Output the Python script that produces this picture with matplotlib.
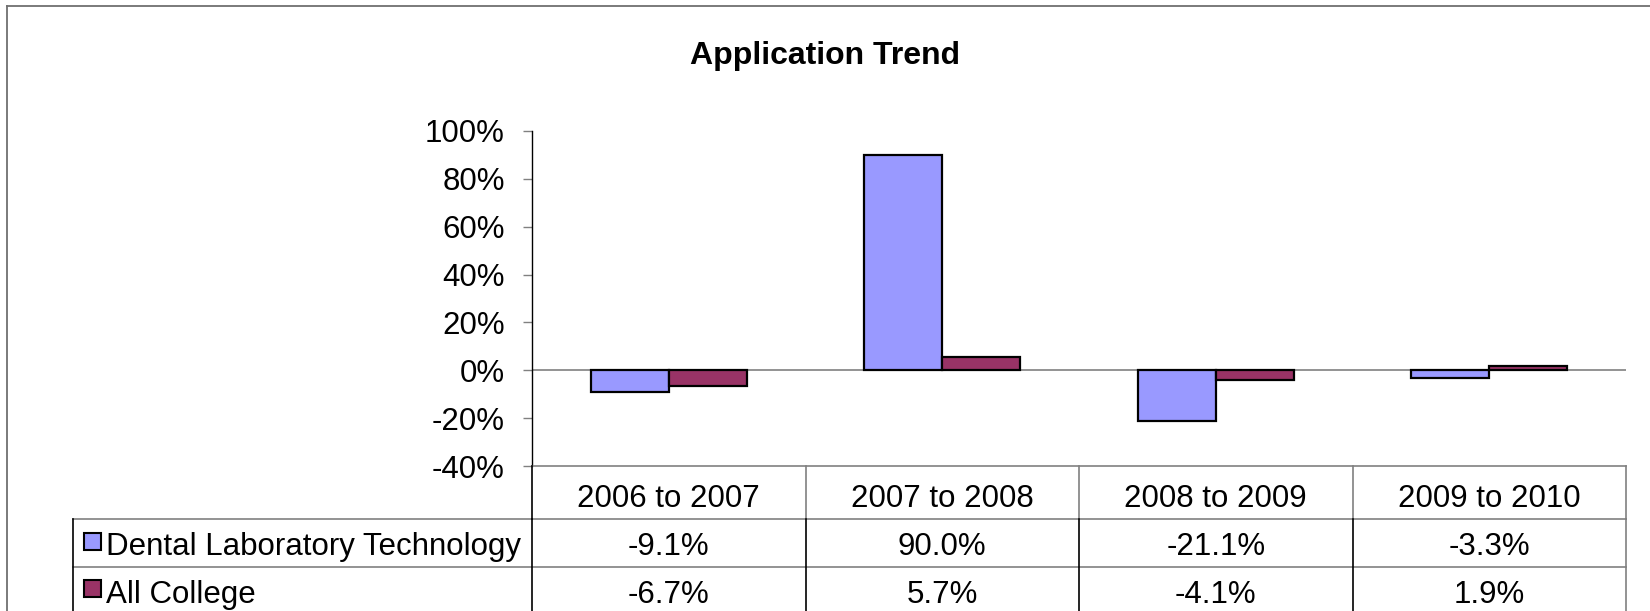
import matplotlib.pyplot as plt
import matplotlib.transforms as mtransforms
from matplotlib.lines import Line2D
from matplotlib.patches import Rectangle
from matplotlib.ticker import FuncFormatter
import numpy as np

plt.rcParams['font.family'] = ['Liberation Sans', 'DejaVu Sans']

title = 'Application Trend'
categories = ['2006 to 2007', '2007 to 2008', '2008 to 2009', '2009 to 2010']
series_names = ['Dental Laboratory Technology', 'All College']
dental = [-9.1, 90.0, -21.1, -3.3]
college = [-6.7, 5.7, -4.1, 1.9]
colors = ['#9999FF', '#993366']

W, H = 1650, 611
FS = 22.5

fig = plt.figure(figsize=(W / 100, H / 100), dpi=100)


def fx(px):
    return px / W


def fy(py):
    return 1 - py / H


# chart area border (cut off at right and bottom like the original)
fig.add_artist(Line2D([fx(7), 1.0], [fy(5.5), fy(5.5)], color='#707070', lw=1.3))
fig.add_artist(Line2D([fx(7), fx(7)], [fy(5.5), 0.0], color='#707070', lw=1.3))

ax = fig.add_axes([fx(532), fy(466), (1626 - 532) / W, (466 - 131) / H])

x = np.arange(len(categories))
w = 1 / 3.5  # excel gap width 75%
ax.bar(x - w / 2, dental, w, color=colors[0], edgecolor='black', linewidth=1.6, zorder=3)
ax.bar(x + w / 2, college, w, color=colors[1], edgecolor='black', linewidth=1.6, zorder=3)
ax.axhline(0, color='#808080', lw=1.2, zorder=2)

ax.set_xlim(-0.5, len(categories) - 0.5)
ax.set_ylim(-40, 100)
ax.set_yticks(np.arange(-40, 101, 20))
ax.yaxis.set_major_formatter(FuncFormatter(lambda v, p: f'{v:.0f}%'))
ax.tick_params(axis='y', labelsize=FS, length=6.5, width=1, color='#808080', pad=13)
ax.set_xticks([])
for s in ['top', 'right', 'bottom']:
    ax.spines[s].set_visible(False)
ax.spines['left'].set_color('black')
ax.spines['left'].set_linewidth(1.0)

fig.text(0.5, fy(64), title, ha='center', va='baseline', fontsize=FS + 0.5,
         fontweight='bold')

# data table below the plot
blend = mtransforms.blended_transform_factory(ax.transData, fig.transFigure)
rows = [466, 519, 567, 615]
baselines = [507, 555, 603]
key_centers = [541, 588]
x_left = 73
grey = '#808080'

# horizontal lines
fig.add_artist(Line2D([fx(532), fx(1626)], [fy(rows[0])] * 2, color=grey, lw=1.2))
for r in rows[1:]:
    fig.add_artist(Line2D([fx(x_left), fx(1626)], [fy(r)] * 2, color=grey, lw=1.2))
# vertical lines
fig.add_artist(Line2D([fx(x_left)] * 2, [fy(rows[1]), 0], color='black', lw=1.2))
for i in range(len(categories) + 1):
    xb = i - 0.5
    hcol = 'black' if i == 0 else grey
    fig.add_artist(Line2D([xb, xb], [fy(rows[0]), fy(rows[1])], color=hcol, lw=1.2,
                          transform=blend))
    dcol = grey if i == len(categories) else 'black'
    fig.add_artist(Line2D([xb, xb], [fy(rows[1]), 0], color=dcol, lw=1.2,
                          transform=blend))

for i, c in enumerate(categories):
    ax.text(i, fy(baselines[0]), c, transform=blend, ha='center',
            va='baseline', fontsize=FS)

for j, (name, vals) in enumerate(zip(series_names, [dental, college])):
    kc = key_centers[j]
    fig.add_artist(Rectangle((fx(84), fy(kc + 8.5)), 17 / W, 17 / H, facecolor=colors[j],
                             edgecolor='black', lw=1.5, transform=fig.transFigure))
    fig.text(fx(106), fy(baselines[j + 1]), name, ha='left', va='baseline', fontsize=FS)
    for i, v in enumerate(vals):
        ax.text(i, fy(baselines[j + 1]), f'{v:.1f}%', transform=blend, ha='center',
                va='baseline', fontsize=FS)

plt.savefig('out.png', dpi=100)
